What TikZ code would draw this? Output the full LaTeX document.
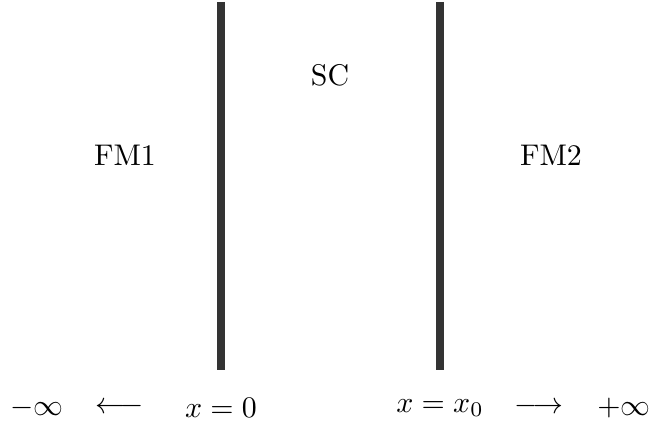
\documentclass[tikz,border=0pt]{standalone}
\usepackage{amsmath,amssymb}
\usetikzlibrary{positioning}

\begin{document}
\begin{tikzpicture}[
  x=0.01176cm,y=-0.01176cm,
  font=\normalsize,
  wall/.style={line width=2.7pt,black!80},
  lbl/.style={inner sep=1pt}
]
\useasboundingbox (0,0) rectangle (650,423);
\coordinate (wallAtop) at (221,2);
\coordinate (wallAbot) at (221,370);
\coordinate (wallBtop) at (440,2);
\coordinate (wallBbot) at (440,370);
\draw[wall] (wallAtop) -- (wallAbot);
\draw[wall] (wallBtop) -- (wallBbot);
\node[lbl] (fm1) at (125,155) {FM1};
\node[lbl] (sc) at (330,75) {SC};
\node[lbl] (fm2) at (551,155) {FM2};
\node[lbl] (xzero) at (221,408) {$x=0$};
\node[lbl] (xend) at (440,408) {$x=x_0$};
\node[lbl] (minf) at (37,408) {$-\infty$};
\node[lbl] (pinf) at (624,408) {$+\infty$};
\node[lbl] (larr) at (120,408) {$\longleftarrow$};
\node[lbl] (rarr) at (539,408) {$\longrightarrow$};
\end{tikzpicture}
\end{document}
